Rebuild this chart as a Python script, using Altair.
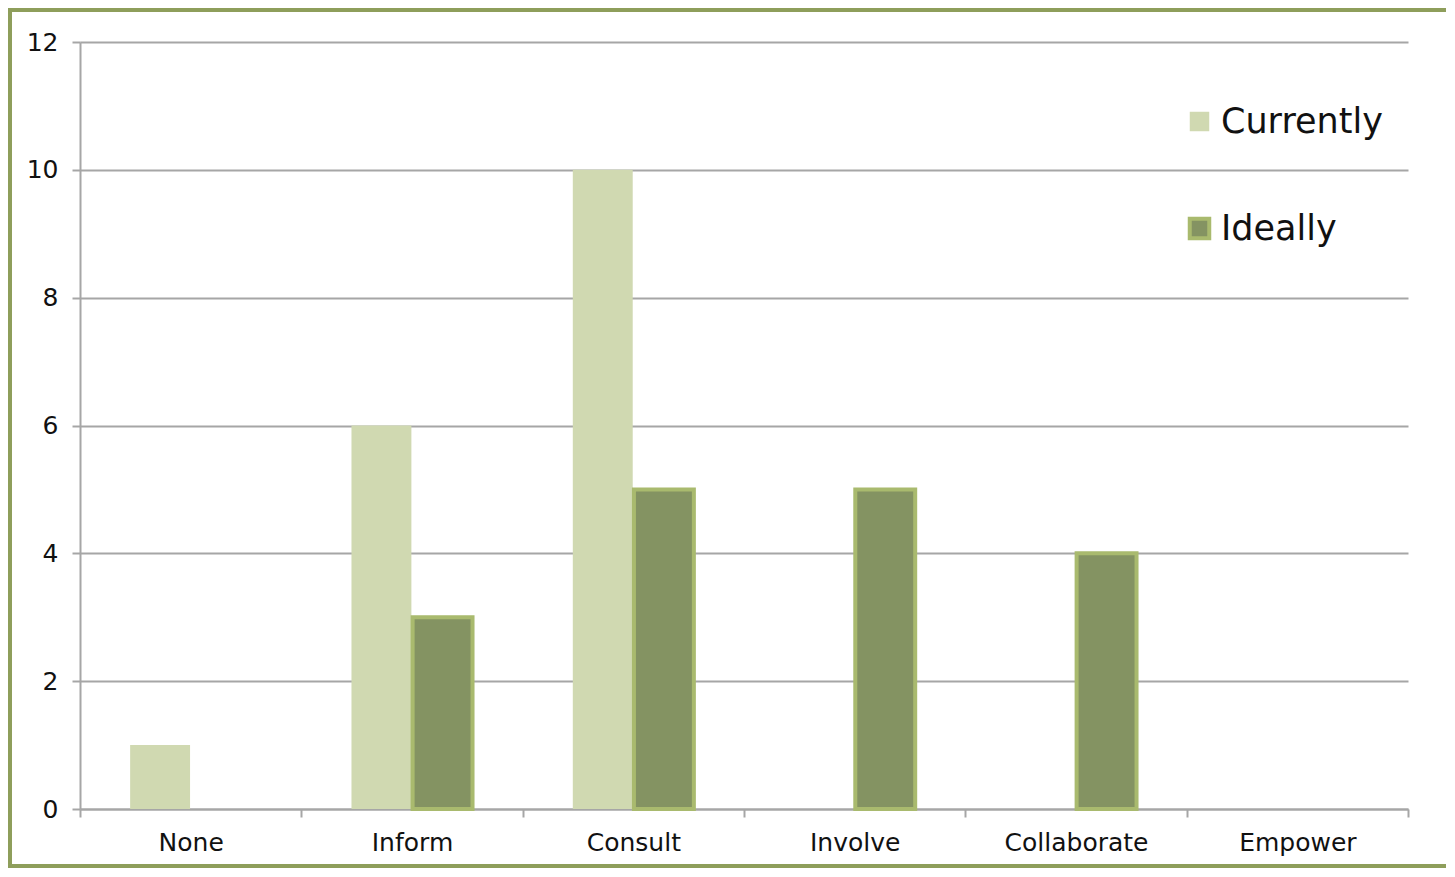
import altair as alt
import pandas as pd

categories = ["None", "Inform", "Consult", "Involve", "Collaborate", "Empower"]
currently = [1, 6, 10, 0, 0, 0]
ideally = [0, 3, 5, 5, 4, 0]
series_names = ["Currently", "Ideally"]
y_ticks = [0, 2, 4, 6, 8, 10, 12]

rows = []
for c, a, b in zip(categories, currently, ideally):
    rows.append({"category": c, "series": "Currently", "value": a})
    rows.append({"category": c, "series": "Ideally", "value": b})
df = pd.DataFrame(rows)

FONT = "DejaVu Sans"
GRID = "#A6A6A6"
FRAME = "#8E9E5B"

legend_kw = dict(orient="none", legendX=1102, legendY=62, title=None,
                 symbolType="square", symbolSize=380, symbolStrokeWidth=4,
                 labelFontSize=35, labelFont=FONT, labelColor="#111", labelLimit=400,
                 labelOffset=4, rowPadding=70)

bars = alt.Chart(df).transform_filter("datum.value > 0").mark_bar(clip=False).encode(
    x=alt.X("category:N", sort=categories, title=None,
            scale=alt.Scale(domain=categories, paddingInner=0, paddingOuter=0),
            axis=alt.Axis(labelAngle=0, labelFontSize=25, labelFont=FONT, labelColor="#111",
                          labelPadding=13, tickBand="extent", tickSize=8, tickWidth=2,
                          tickColor=GRID, domainColor=GRID, domainWidth=2, grid=False)),
    xOffset=alt.XOffset("series:N", sort=series_names,
                        scale=alt.Scale(domain=series_names, paddingInner=0.02, paddingOuter=0.82)),
    y=alt.Y("value:Q", title=None,
            scale=alt.Scale(domain=[0, 12], nice=False),
            axis=alt.Axis(values=y_ticks, labelFontSize=25, labelFont=FONT, labelColor="#111",
                          labelPadding=14, tickSize=8, tickWidth=2, tickColor=GRID,
                          domainColor=GRID, domainWidth=2, grid=True, gridColor=GRID,
                          gridWidth=2)),
    fill=alt.Fill("series:N", sort=series_names,
                  scale=alt.Scale(domain=series_names, range=["#D0D9B1", "#849362"]),
                  legend=alt.Legend(**legend_kw)),
    stroke=alt.Stroke("series:N", sort=series_names,
                      scale=alt.Scale(domain=series_names, range=["transparent", "#A9BA6E"]),
                      legend=alt.Legend(**legend_kw)),
    strokeWidth=alt.StrokeWidth("series:N", sort=series_names,
                                scale=alt.Scale(domain=series_names, range=[0, 4]), legend=None),
)

one = pd.DataFrame({"a": [0]})
def edge(x, x2, y, y2):
    return alt.Chart(one).mark_rule(stroke=FRAME, strokeWidth=4, clip=False).encode(
        x=alt.value(x), x2=alt.value(x2), y=alt.value(y), y2=alt.value(y2))

left = edge(-70, -70, -34, 826)
top = edge(-72, 1366, -32, -32)
bottom = edge(-72, 1366, 824, 824)

chart = alt.layer(bars, left, top, bottom).properties(
    width=1328, height=767,
    padding={"left": 72, "top": 34, "right": 38, "bottom": 60},
    autosize=alt.AutoSizeParams(type="none"),
    background="white",
).configure_view(stroke=None).configure_legend(strokeColor=None)

chart.save("out.html", embed_options={"renderer": "svg", "actions": False})
